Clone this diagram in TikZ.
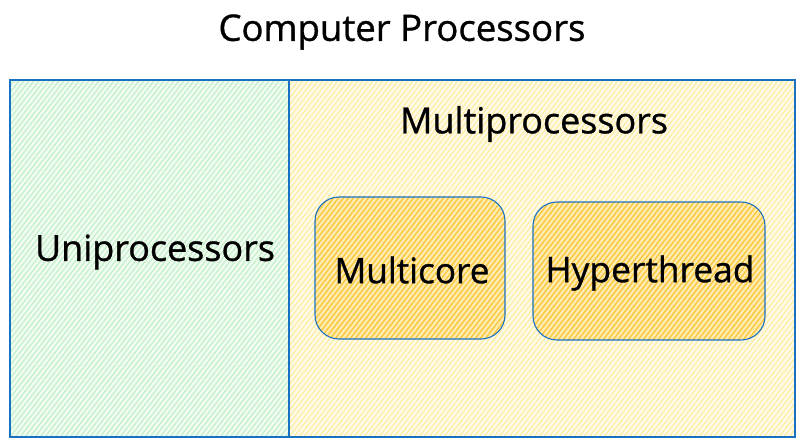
\documentclass[tikz,border=0pt]{standalone}
\usepackage{fontspec}
\setmainfont{Open Sans}
\newfontfamily\handfont{Open Sans}[FakeBold=0.9]
\usetikzlibrary{calc}
\definecolor{edgeblue}{HTML}{1971C2}
\definecolor{greenfill}{HTML}{F2FCF3}
\definecolor{greenline}{HTML}{C3F1CA}
\definecolor{yelfill}{HTML}{FFFBEA}
\definecolor{yelline}{HTML}{FFEDA6}
\definecolor{orfill}{HTML}{FFEBB0}
\definecolor{orline}{HTML}{FBC73A}
\tikzset{
  hatch/.style={path picture={
    \foreach \k in {0,5,...,950}{
      \draw[#1,line width=1.3pt]
        ($(path picture bounding box.south west)+(\k pt-450pt,0pt)$) -- ++(400pt,520pt);
    }}},
  box/.style={draw=edgeblue,line width=1.1pt,rectangle,inner sep=0pt},
  txt/.style={inner sep=0pt,text=black},
}
\newcommand{\fitw}[2]{\resizebox{#1}{!}{\handfont #2}}
\begin{document}
\begin{tikzpicture}[x=1pt,y=-1pt]
\useasboundingbox[fill=white] (0,0) rectangle (803,447);
\node[box,fill=greenfill,hatch=greenline,minimum width=279pt,minimum height=357pt] (uni) at (149.5,258.5) {};
\node[box,fill=yelfill,hatch=yelline,minimum width=506pt,minimum height=357pt] (multi) at (542,258.5) {};
\node[box,fill=orfill,hatch=orline,rounded corners=24pt,minimum width=190pt,minimum height=142pt] (mc) at (410,268) {};
\node[box,fill=orfill,hatch=orline,rounded corners=24pt,minimum width=232pt,minimum height=138pt] (ht) at (649,271) {};
\node[txt] (title) at (402,32) {\fitw{367pt}{Computer Processors}};
\node[txt] (unit) at (155,252) {\fitw{240pt}{Uniprocessors}};
\node[txt] (multit) at (534,124) {\fitw{268pt}{Multiprocessors}};
\node[txt] (mct) at (412,270) {\fitw{155pt}{Multicore}};
\node[txt] (htt) at (650,273) {\fitw{209pt}{Hyperthread}};
\end{tikzpicture}
\end{document}
